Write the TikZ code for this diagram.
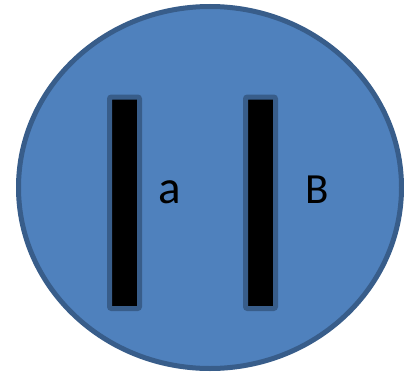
\documentclass[tikz,border=0pt]{standalone}
\usepackage{fontspec}
\setmainfont{Carlito}
\usetikzlibrary{shapes.geometric}

\begin{document}
\begin{tikzpicture}[x=1pt, y=-1pt]
        \definecolor{cellblue}{HTML}{4F81BD}
        \definecolor{cellrim}{HTML}{385D8A}
        \tikzset{rod/.style={draw=cellrim, fill=black, line width=5pt, rounded corners=2pt, minimum width=30pt, minimum height=211.5pt, inner sep=0pt}}

        \useasboundingbox (0,0) rectangle (404,372);

        \node[ellipse, draw=cellrim, fill=cellblue, line width=5pt, minimum width=383pt, minimum height=362pt, inner sep=0pt] (cell) at (210,187.5) {};

        \node[rod] (rodA) at (124.5,202.75) {};
        \node[rod] (rodB) at (260.5,202.75) {};

        \node[anchor=base, inner sep=0pt, font=\fontsize{47}{50}\selectfont] (labelA) at (169.5,203.5) {a};
        \node[anchor=base, inner sep=0pt, font=\fontsize{43}{46}\selectfont] (labelB) at (317,203) {B};
    \end{tikzpicture}
\end{document}
